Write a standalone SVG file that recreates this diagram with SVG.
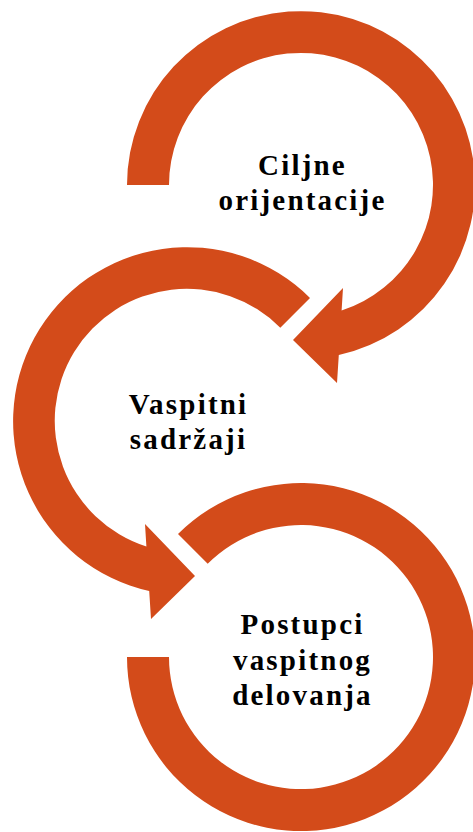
<svg xmlns="http://www.w3.org/2000/svg" width="473" height="832" viewBox="0 0 473 832">
<style>
.ring{fill:#D34B1A;stroke:none}
.lbl{font-family:"Liberation Serif","Times New Roman",serif;font-weight:bold;font-size:29px;letter-spacing:2.2px;fill:#000;text-anchor:middle}
</style>
<rect width="473" height="832" fill="#fff"/>
<g id="connectors">
<path id="arrow1" class="ring" d="M127,185 A174,174 0 1,1 338.8,355 L337,383 L293,340 L343,288 L341.6,310.5 A132,132 0 1,0 169,185 Z"/>
<path id="arrow2" class="ring" d="M310,298 A174,174 0 1,0 149.2,591 L151,619 L195,576 L145,524 L146.4,546.5 A132,132 0 1,1 280.3,327.7 Z"/>
<path id="arrow3" class="ring" d="M178,534 A174,174 0 1,1 127,657 L169,657 A132,132 0 1,0 207.7,563.7 Z"/>
</g>
<g id="node1">
<text class="lbl" x="302.5" y="175">Ciljne</text>
<text class="lbl" x="302.5" y="210">orijentacije</text>
</g>
<g id="node2">
<text class="lbl" x="188.5" y="414">Vaspitni</text>
<text class="lbl" x="188.5" y="449">sadržaji</text>
</g>
<g id="node3">
<text class="lbl" x="302.5" y="634">Postupci</text>
<text class="lbl" x="302.5" y="670">vaspitnog</text>
<text class="lbl" x="302.5" y="705">delovanja</text>
</g>
</svg>
